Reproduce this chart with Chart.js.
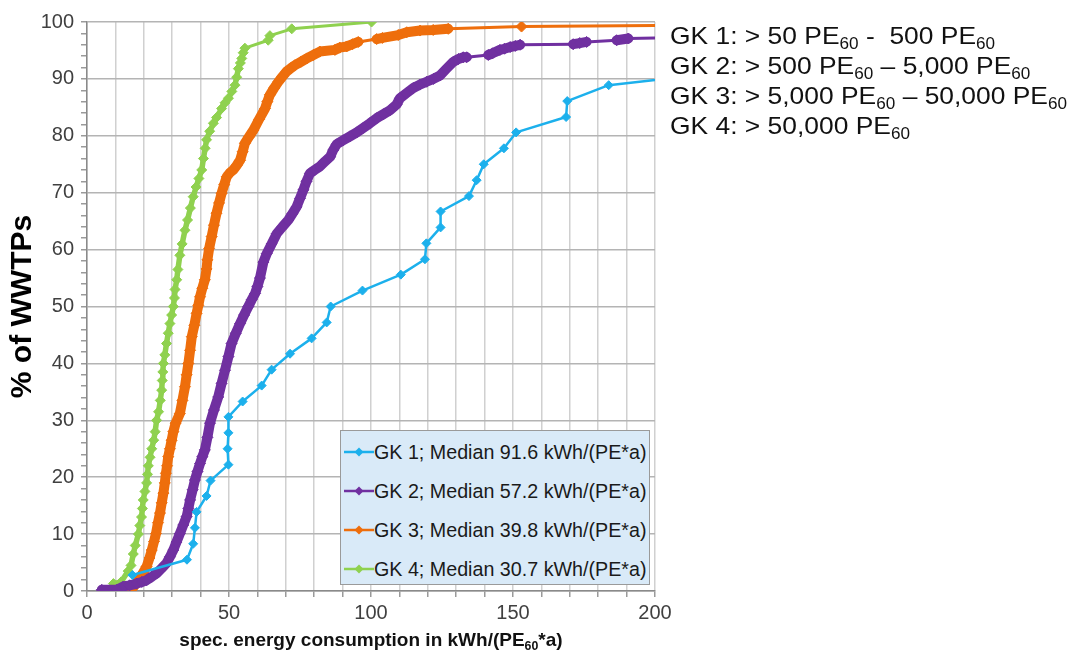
<!DOCTYPE html>
<html>
<head>
<meta charset="utf-8">
<script src="https://cdn.jsdelivr.net/npm/chart.js@4.4.1/dist/chart.umd.min.js"></script>
<style>
  body { margin: 0; background: #fff; font-family: "Liberation Sans", Arial, sans-serif; }
  #wrap { position: relative; width: 1072px; height: 653px; overflow: hidden; }
  #chart { position: absolute; left: 0; top: 0; }
  sub { font-size: 65%; vertical-align: -0.35em; line-height: 0; }
  #groups { position: absolute; left: 670px; top: 21px; font-size: 24px; line-height: 30px; color: #111; white-space: nowrap; transform: scaleX(1.1); transform-origin: 0 0; }
  #xtitle { position: absolute; left: 87px; width: 568px; top: 629px; text-align: center; font-weight: bold; font-size: 19px; color: #111; white-space: nowrap; }
  #legend { position: absolute; left: 340px; top: 430px; width: 310px; height: 155px; background: #d9eaf8; border: 1.5px solid #9a9a9a; box-sizing: border-box; }
  .item { position: absolute; left: 0; height: 24px; font-size: 19.7px; line-height: 24px; color: #1a1a1a; white-space: nowrap; }
  .item canvas { position: absolute; left: 3px; top: 4px; }
  .item span { position: absolute; left: 33px; top: 0; }
</style>
</head>
<body>
<div id="wrap">
  <canvas id="chart" width="1072" height="653"></canvas>
  <div id="groups">
    <div>GK 1: &gt; 50 PE<sub>60</sub> -&nbsp; 500 PE<sub>60</sub></div>
    <div>GK 2: &gt; 500 PE<sub>60</sub> – 5,000 PE<sub>60</sub></div>
    <div>GK 3: &gt; 5,000 PE<sub>60</sub> – 50,000 PE<sub>60</sub></div>
    <div>GK 4: &gt; 50,000 PE<sub>60</sub></div>
  </div>
  <div id="xtitle">spec. energy consumption in kWh/(PE<sub>60</sub>*a)</div>
  <div id="legend"></div>
</div>
<script>
// series labels and colours
const seriesNames = [
  "GK 1; Median 91.6 kWh/(PE*a)",
  "GK 2; Median 57.2 kWh/(PE*a)",
  "GK 3; Median 39.8 kWh/(PE*a)",
  "GK 4; Median 30.7 kWh/(PE*a)"
];
const seriesColors = ["#1cb0ec", "#7030a0", "#ee6e0c", "#8fd14f"];

// GK 1
const gk1X = [16, 35.2, 37.4, 38, 38.6, 42.1, 43.5, 49.8, 49.5, 49.8, 49.8, 54.8, 61.5, 65, 71.5, 79.1, 84.4, 85.8,
  97, 110.5, 119, 119.5, 124.5, 124.5, 134.5, 137.2, 139.7, 146.8, 151.1, 168.7, 169.1, 183.7, 234];
const gk1Y = [2.8, 5.5, 8.3, 11.1, 13.9, 16.7, 19.4, 22.2, 25, 27.8, 30.6, 33.3, 36.1, 38.9, 41.7, 44.4, 47.2, 50,
  52.8, 55.6, 58.3, 61.1, 63.9, 66.7, 69.4, 72.2, 75, 77.8, 80.6, 83.3, 86.1, 88.9, 91.7];

// GK 2
const gk2X = [5.2, 10.4, 12.8, 15, 17.5, 19.3, 21, 22.8, 24.5, 26.3, 28, 29.2, 30.4, 31.5, 32.7, 33.9, 35.1, 35.7,
  36.3, 37.2, 38, 38.9, 39.8, 40.6, 41.5, 42.4, 43.3, 44.7, 46.2, 47.4, 48.6, 49.8, 50.9, 52.4, 53.9, 55.3, 56.8,
  58, 59.2, 60, 60.9, 62.1, 63.3, 65, 66.8, 68.8, 70.9, 72.3, 73.8, 75, 76.2, 77.3, 78.5, 80.2, 82, 83.8, 85.6,
  86.7, 87.9, 90.2, 92.6, 95, 97.3, 99.6, 102, 104.4, 106.7, 109, 110.2, 112.5, 114.9, 117.2, 119.6, 122, 124.3,
  126.6, 129, 130.8, 132.5, 133.7, 141.3, 142.8, 145.4, 147, 149, 150.8, 152.5, 171.2, 173.5, 175.9, 186.5, 190.6, 240];
const gk2Y = [0.2, 0.2, 0.8, 1, 1.3, 1.6, 1.9, 2.5, 3.1, 4, 4.9, 6, 7.2, 8.6, 10.1, 11.6, 13.1, 14.5,
  16, 17.8, 19.5, 21, 22.4, 23.6, 24.8, 27, 29.5, 31.8, 34.1, 36.5, 38.8, 41.2, 43.5, 45.3, 47, 48.5, 50,
  51.2, 52.3, 53.5, 55, 57.8, 59.3, 61, 62.8, 64, 65.2, 66.3, 67.5, 69, 70.5, 72, 73.4, 74, 74.6, 75.5, 76.3,
  77.5, 78.5, 79.2, 79.9, 80.6, 81.4, 82.2, 83.1, 83.8, 84.5, 85.5, 86.6, 87.5, 88.4, 89, 89.5, 90, 90.6,
  91.8, 93, 93.5, 93.8, 93.8, 94.2, 94.5, 95.1, 95.3, 95.6, 95.8, 96, 96.1, 96.3, 96.5, 96.8, 97.1, 97.6];

// GK 3
const gk3X = [15.1, 16.5, 18.1, 19.5, 21, 22, 22.8, 23.6, 24.3, 25, 25.7, 26.3, 26.9, 27.4, 27.8, 28.2, 28.6, 29.2,
  29.8, 30.4, 31.2, 32.7, 33.6, 34.5, 35.1, 35.7, 36.3, 36.9, 37.8, 38.6, 39.2, 39.8, 40.6, 41.5, 42.1, 42.4, 43,
  43.9, 44.7, 45.6, 46.5, 47.4, 48.3, 49.2, 50.3, 51.5, 52.7, 53.9, 54.8, 55.6, 57, 58.6, 60.6, 62.7, 63.5, 64.4,
  65.9, 67.4, 68.8, 70.3, 71.8, 73.2, 75.3, 77.4, 79.7, 82, 87.3, 89, 91.4, 93.5, 95.5, 102, 104, 109.6, 112.6,
  117.3, 121.9, 127.2, 153, 260];
const gk3Y = [0, 0.8, 1.9, 3, 4.3, 5.8, 7.2, 8.7, 10.1, 12, 13.7, 15.5, 17.2, 19, 20.7, 22, 23.6, 25,
  26.5, 28, 29.5, 31.2, 33.5, 35.9, 38, 40, 42.3, 44.7, 46.7, 48.8, 50.2, 51.7, 53.2, 54.7, 56.6, 58.2, 60.2,
  62.3, 64.3, 66.4, 68.2, 69.9, 71.4, 72.8, 73.5, 74, 74.8, 75.7, 77.2, 78.7, 79.8, 81, 82.9, 84.8, 86, 87.2,
  88.4, 89.5, 90.4, 91.3, 91.9, 92.4, 93, 93.6, 94.2, 94.8, 95.1, 95.5, 95.7, 96.1, 96.5, 97, 97.2, 97.7, 98.2,
  98.5, 98.6, 98.8, 99.2, 99.6];

// GK 4
const gk4X = [9.3, 12, 14.5, 15.5, 16.3, 17, 18.1, 18.6, 19.2, 19.5, 19.8, 20.4, 21, 21.3, 21.6, 22.2, 22.8, 23.5,
  24, 24.5, 25.2, 25.8, 26.3, 26.5, 26.7, 26.9, 27.4, 28, 28.6, 29.2, 29.8, 30.4, 30.8, 31, 31.6, 32, 32.7, 33.5,
  34.5, 35.4, 36.4, 37.4, 38.4, 39.4, 40.4, 41, 41.6, 42.1, 43.2, 44.5, 45.6, 47.4, 48.6, 49.8, 51, 52.1, 52.7,
  53.3, 54, 54.5, 55, 55.6, 63.8, 64.4, 72.1, 100.2];
const gk4Y = [1.3, 1.6, 3.5, 4.5, 6.5, 8, 10, 11.5, 13, 14.5, 16, 17.5, 19, 20.5, 22, 23.5, 25, 26.5,
  28, 30, 31.5, 33.5, 35.3, 37, 38.5, 40, 41.5, 43.5, 45.3, 47, 48.5, 50, 51.5, 53, 54.7, 56.5, 59, 61,
  63.4, 65.2, 67.3, 69.3, 71, 72.5, 74, 76, 77.8, 79.3, 80.8, 82.2, 83.2, 84.8, 85.8, 86.6, 87.8, 88.9, 90.3,
  91.8, 92.8, 93.6, 94.6, 95.4, 96.8, 97.6, 98.8, 100];

const xTickLabels = [0, 50, 100, 150, 200];
const yTickLabels = [0, 10, 20, 30, 40, 50, 60, 70, 80, 90, 100];

function toPoints(xs, ys) {
  return xs.map((x, i) => ({ x: x, y: ys[i] }));
}

const allX = [gk1X, gk2X, gk3X, gk4X];
const allY = [gk1Y, gk2Y, gk3Y, gk4Y];
const thinWidths = [2.5, 3, 3, 3];
const thickWidths = [2.5, 10, 10, 5.5];
const pointSizes = [4.5, 5.5, 5.5, 5];

// dense stretches of points look like a thick band in the original
const datasets = seriesNames.map((name, i) => ({
  label: name,
  data: toPoints(allX[i], allY[i]),
  showLine: true,
  borderColor: seriesColors[i],
  backgroundColor: seriesColors[i],
  borderWidth: thinWidths[i],
  segment: {
    borderWidth: (ctx) => {
      const d = Math.hypot(ctx.p1.x - ctx.p0.x, ctx.p1.y - ctx.p0.y);
      return d < 17 ? thickWidths[i] : thinWidths[i];
    }
  },
  borderJoinStyle: "round",
  borderCapStyle: "round",
  pointStyle: "rectRot",
  pointRadius: pointSizes[i],
  pointBorderWidth: 1,
  pointHoverRadius: pointSizes[i],
  tension: 0
}));

new Chart(document.getElementById("chart"), {
  type: "scatter",
  data: { datasets: datasets },
  options: {
    responsive: false,
    animation: false,
    layout: { padding: { left: 0, right: 417, top: 22, bottom: 0 } },
    plugins: { legend: { display: false }, tooltip: { enabled: false } },
    scales: {
      x: {
        type: "linear",
        min: 0,
        max: 200,
        afterFit: (scale) => { scale.height = 62; },
        ticks: {
          stepSize: 10,
          autoSkip: false,
          maxRotation: 0,
          padding: 4,
          color: "#404040",
          font: { family: "Liberation Sans", size: 20 },
          callback: (v) => (xTickLabels.includes(v) ? String(v) : "")
        },
        grid: { color: "#d0d0d0", lineWidth: 1.5, tickLength: 6, tickColor: "#9a9a9a" },
        border: { color: "#8a8a8a", width: 1.5 }
      },
      y: {
        min: 0,
        max: 100,
        afterFit: (scale) => { scale.width = 87; },
        title: {
          display: true,
          text: "% of WWTPs",
          color: "#000",
          padding: { top: 5, bottom: 0 },
          font: { family: "Liberation Sans", size: 30, weight: "bold" }
        },
        ticks: {
          stepSize: 2,
          autoSkip: false,
          padding: 7,
          color: "#404040",
          font: { family: "Liberation Sans", size: 20 },
          callback: (v) => (yTickLabels.includes(v) ? String(v) : "")
        },
        grid: {
          color: (ctx) => (ctx.tick && ctx.tick.value % 10 === 0 ? "#b4b4b4" : "rgba(0,0,0,0)"),
          lineWidth: 1.5,
          tickLength: 6,
          tickColor: "#9a9a9a"
        },
        border: { color: "#8a8a8a", width: 1.5 }
      }
    }
  }
});

// legend box drawn as html with small canvas samples
const legendBox = document.getElementById("legend");
const itemTops = [9, 48, 87, 126];
seriesNames.forEach((name, i) => {
  const item = document.createElement("div");
  item.className = "item";
  item.style.top = itemTops[i] + "px";
  const c = document.createElement("canvas");
  c.width = 30; c.height = 16;
  const g = c.getContext("2d");
  g.strokeStyle = seriesColors[i];
  g.fillStyle = seriesColors[i];
  g.lineWidth = 2.5;
  g.beginPath(); g.moveTo(0, 8); g.lineTo(30, 8); g.stroke();
  g.beginPath(); g.moveTo(15, 3.5); g.lineTo(19.5, 8); g.lineTo(15, 12.5); g.lineTo(10.5, 8); g.closePath(); g.fill();
  const s = document.createElement("span");
  s.textContent = name;
  item.appendChild(c);
  item.appendChild(s);
  legendBox.appendChild(item);
});
</script>
</body>
</html>
